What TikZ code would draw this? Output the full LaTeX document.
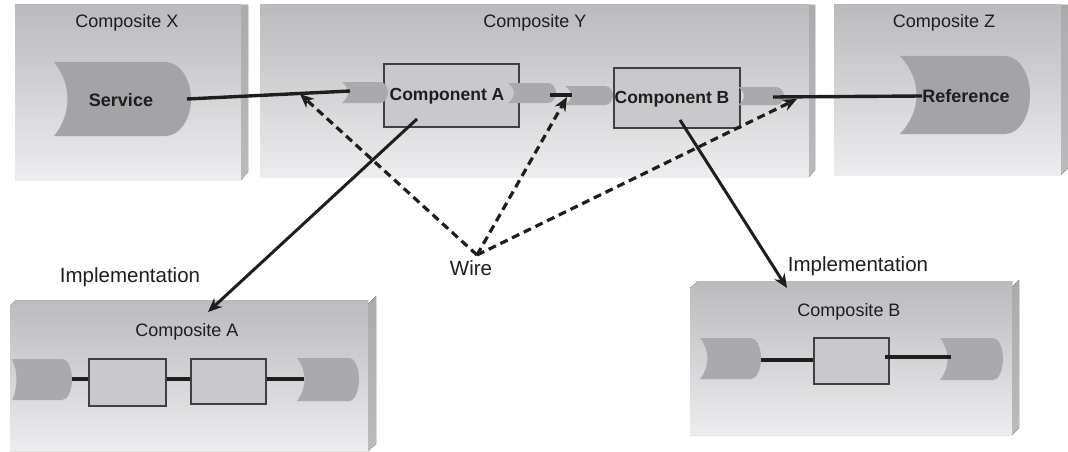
\documentclass[tikz,border=0pt]{standalone}
\usepackage{fontspec}
\setmainfont{Liberation Sans}
\usetikzlibrary{arrows.meta}
\definecolor{ink}{RGB}{30,30,30}
\definecolor{facetop}{RGB}{186,186,191}
\definecolor{facebot}{RGB}{237,237,239}
\definecolor{sidegray}{RGB}{170,170,175}
\definecolor{tabgray}{RGB}{170,170,174}
\definecolor{portgray}{RGB}{163,163,168}
\definecolor{boxgray}{RGB}{201,201,205}
\tikzset{
  face/.style={top color=facetop, bottom color=facebot, draw=none},
  side/.style={top color=sidegray, bottom color=sidegray!80!white, draw=none},
  title/.style={font=\fontsize{18}{20}\selectfont, text=ink, inner sep=0pt},
  callout/.style={font=\fontsize{20.5}{23}\selectfont, text=ink, inner sep=0pt},
  portlabel/.style={font=\bfseries\fontsize{18}{20}\selectfont, text=ink, inner sep=0pt},
  complabel/.style={font=\bfseries\fontsize{17.5}{20}\selectfont, text=ink, inner sep=0pt},
  compbox/.style={draw=ink!85, line width=1.4pt, fill=boxgray, inner sep=0pt},
  wire/.style={line width=3.4pt, draw=ink},
  innerwire/.style={line width=3.2pt, draw=ink},
  link/.style={line width=3pt, draw=ink, -{Stealth[length=14pt,width=12pt]}},
  dashlink/.style={line width=3.2pt, draw=ink, dash pattern=on 8pt off 5pt,
                   -{Stealth[length=14pt,width=12pt]}},
}
% Port tab: concave notch on the left, rounded nose on the right.
% #1 fill colour, #2 left x, #3 top y, #4 right x, #5 bottom y, #6 notch depth, #7 nose width
\newcommand\porttab[7][tabgray]{%
  \fill[#1] (#2,#3) -- ({#4-#7},#3)
    .. controls ({#4-0.45*#7},#3) and (#4,{#3+0.22*(#5-#3)}) .. (#4,{0.5*(#3+#5)})
    .. controls (#4,{#5-0.22*(#5-#3)}) and ({#4-0.45*#7},#5) .. ({#4-#7},#5)
    -- (#2,#5)
    .. controls ({#2+#6},{#5-0.3*(#5-#3)}) and ({#2+#6},{#3+0.3*(#5-#3)}) .. (#2,#3) -- cycle;}
\begin{document}
\begin{tikzpicture}[x=1pt,y=-1pt]
\useasboundingbox (0,0) rectangle (1068,452);

% ---- composite panels (front face + side strip) ----
\fill[face] (15,5) rectangle (241,180);
\fill[side] (241,5) -- (248,5) -- (248,172) -- (241,180) -- cycle;
\fill[face] (260,5) rectangle (809,177);
\fill[side] (809,5) -- (815,5) -- (815,170) -- (809,177) -- cycle;
\fill[face] (834,5) rectangle (1061,175);
\fill[side] (1061,5) -- (1068,5) -- (1068,168) -- (1061,175) -- cycle;
\fill[face] (10,306) -- (16,300) -- (368,300) -- (368,451) -- (10,451) -- cycle;
\fill[side] (368,304) -- (376,296) -- (376,444) -- (368,451) -- cycle;
\fill[face] (690,288) -- (698,281) -- (1012,281) -- (1012,435) -- (690,435) -- cycle;
\fill[side] (1012,287) -- (1019,280) -- (1019,428) -- (1012,435) -- cycle;

\node[title] (titleX) at (127,23) {Composite X};
\node[title] (titleY) at (535,23) {Composite Y};
\node[title] (titleZ) at (944,23) {Composite Z};
\node[title] (titleA) at (187,332) {Composite A};
\node[title] (titleB) at (849,312) {Composite B};

% ---- promoted service and reference ----
\porttab[portgray]{54}{62}{191}{136}{18}{26}
\node[portlabel] (service) at (121,100) {Service};
\porttab[portgray]{900}{56}{1030}{134}{22}{25}

% ---- components inside Composite Y ----
\node[compbox, minimum width=135pt, minimum height=63pt] (compA) at (451.5,95.5) {};
\node[compbox, minimum width=126pt, minimum height=60pt] (compB) at (677,98) {};
\porttab{342}{82}{388}{103}{8}{8}
\porttab{508}{83}{556}{103}{8}{8}
\porttab{565}{86}{613}{105}{8}{8}
\porttab{738}{87}{784}{105}{8}{8}
\node[complabel] (labelA) at (447,96) {Component A};
\node[complabel] (labelB) at (672,99) {Component B};
\node[portlabel] (reference) at (966,96) {Reference};

% ---- wire end points ----
\coordinate (svcOut) at (187,99);
\coordinate (aIn) at (350,91);
\coordinate (aOut) at (550,95);
\coordinate (bIn) at (572,95);
\coordinate (bOut) at (773,97);
\coordinate (refIn) at (922,96);
\draw[wire] (svcOut) -- (aIn);
\draw[wire, line width=4.5pt] (aOut) -- (bIn);
\draw[wire] (bOut) -- (refIn);

% ---- Composite A internals ----
\porttab{12}{359}{72}{400}{6}{10}
\node[compbox, minimum width=77pt, minimum height=47pt] (subA1) at (127.5,382.5) {};
\node[compbox, minimum width=75pt, minimum height=45pt] (subA2) at (228.5,381.5) {};
\porttab{297}{358}{359}{401}{10}{10}
\coordinate (aTabOut) at (72,379);
\coordinate (aTabIn) at (304,379);
\draw[innerwire] (aTabOut) -- (subA1.west |- aTabOut);
\draw[innerwire] (subA1.east |- aTabOut) -- (subA2.west |- aTabOut);
\draw[innerwire] (subA2.east |- aTabOut) -- (aTabIn);

% ---- Composite B internals ----
\porttab{700}{338}{761}{379}{10}{10}
\node[compbox, minimum width=75pt, minimum height=46pt] (subB) at (851.5,361) {};
\porttab{940}{338}{1003}{380}{10}{10}
\coordinate (bTabOut) at (761,360);
\coordinate (bBoxOut) at (885,357);
\coordinate (bTabIn) at (951,357);
\draw[innerwire] (bTabOut) -- (subB.west |- bTabOut);
\draw[innerwire] (bBoxOut) -- (bTabIn);

% ---- implementation links ----
\coordinate (aImplFrom) at (417,119);
\coordinate (aImplTo) at (208,312);
\coordinate (bImplFrom) at (680,120);
\coordinate (bImplTo) at (787,288);
\draw[link] (aImplFrom) -- (aImplTo);
\draw[link] (bImplFrom) -- (bImplTo);
\node[callout] (implA) at (130,277) {Implementation};
\node[callout] (implB) at (858,266) {Implementation};

% ---- wire callouts ----
\node[callout] (wireLabel) at (471,268) {Wire};
\coordinate (wireHub) at (477,255);
\coordinate (wireTip1) at (300,94);
\coordinate (wireTip2) at (567,97);
\coordinate (wireTip3) at (797,99);
\draw[dashlink] (wireHub) -- (wireTip1);
\draw[dashlink] (wireHub) -- (wireTip2);
\draw[dashlink] (wireHub) -- (wireTip3);
\end{tikzpicture}
\end{document}
